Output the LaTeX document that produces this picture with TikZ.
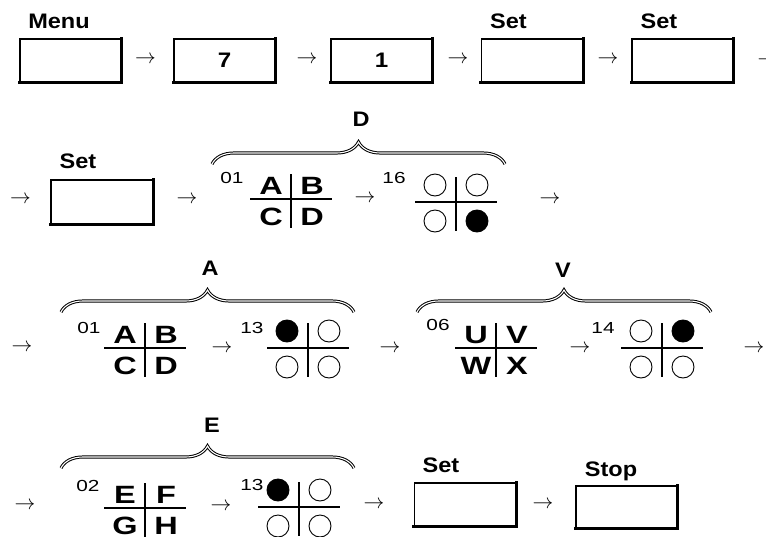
\documentclass[tikz,border=0pt]{standalone}
\usepackage{graphicx}
\usepackage{fontspec}
\setmainfont{Liberation Sans}
\usetikzlibrary{decorations.pathreplacing}
\newcommand\hstr[2]{\scalebox{#1}[1]{#2}}
\tikzset{
  keybox/.style={draw, line width=1.3pt, minimum width=101pt, minimum height=43pt, inner sep=0pt},
  keyedge/.style={line width=3pt, line cap=rect},
  lbl/.style={font=\fontsize{21}{21}\selectfont\bfseries, inner sep=0pt},
  bigl/.style={font=\fontsize{25}{25}\selectfont\bfseries, inner sep=0pt},
  num/.style={font=\fontsize{16}{16}\selectfont, inner sep=0pt},
  arr/.style={font=\fontsize{22}{22}\selectfont, inner sep=0pt},
  gridline/.style={line width=1.3pt},
  dot/.style={circle, draw, line width=0.9pt, minimum size=22pt, inner sep=0pt},
  fdot/.style={dot, fill=black},
  brc/.style={decorate, decoration={brace, amplitude=22pt}, line width=1pt, double distance=1.1pt}
}
\newcommand\quadletters[6]{%
  \begin{scope}[shift={#2}]
    \draw[gridline] (-41,0) -- (41,0);
    \draw[gridline] (0,-25) -- (0,29);
    \node[bigl] (#1a) at (-20,-13) {\hstr{1.3}{#3}};
    \node[bigl] (#1b) at (21,-13) {\hstr{1.3}{#4}};
    \node[bigl] (#1c) at (-20,18) {\hstr{1.3}{#5}};
    \node[bigl] (#1d) at (21,18) {\hstr{1.3}{#6}};
  \end{scope}}
\newcommand\quaddots[6]{%
  \begin{scope}[shift={#2}]
    \draw[gridline] (-41,0) -- (41,0);
    \draw[gridline] (0,-25) -- (0,29);
    \node[#3] (#1a) at (-21,-17) {};
    \node[#4] (#1b) at (21,-17) {};
    \node[#5] (#1c) at (-21,19) {};
    \node[#6] (#1d) at (21,19) {};
  \end{scope}}
\newcommand\keyframe[1]{\draw[keyedge] (#1.north east) -- (#1.south east) -- (#1.south west);}
\begin{document}
\begin{tikzpicture}[x=1pt, y=-1pt]
\useasboundingbox[fill=white] (0,0) rectangle (766,536);

% ---------- row 1 ----------
\node[keybox] (m1) at (70.5,60.5) {};
\node[keybox, lbl] (m2) at (224.5,60.5) {\hstr{1.15}{7}};
\node[keybox, lbl] (m3) at (381.5,60.5) {\hstr{1.15}{1}};
\node[keybox] (m4) at (532,60.5) {};
\node[keybox] (m5) at (682.5,60.5) {};
\foreach \k in {m1,m2,m3,m4,m5} {\keyframe{\k}}
\node[lbl] (lmenu) at (59,21.5) {\hstr{1.12}{Menu}};
\node[lbl] (lset4) at (508.5,21.5) {\hstr{1.12}{Set}};
\node[lbl] (lset5) at (659,21.5) {\hstr{1.12}{Set}};
\node[arr] (a1) at (145.5,60) {$\rightarrow$};
\node[arr] (a2) at (307,60) {$\rightarrow$};
\node[arr] (a3) at (458,60) {$\rightarrow$};
\node[arr] (a4) at (608,60) {$\rightarrow$};
\node[arr] (a5) at (768,61) {$\rightarrow$};

% ---------- row 2 ----------
\node[arr] (b1) at (20.5,200) {$\rightarrow$};
\node[keybox, minimum width=102pt, minimum height=44pt] (s6) at (102,202) {};
\keyframe{s6}
\node[lbl] (lset6) at (78,161) {\hstr{1.12}{Set}};
\node[arr] (b2) at (187,200) {$\rightarrow$};
\coordinate (bdL) at (212,164);
\coordinate (bdR) at (505,164);
\draw[brc] (bdL) -- (bdR);
\node[lbl] (ld) at (361,119) {\hstr{1.12}{D}};
\node[num] (n1) at (232,178) {\hstr{1.3}{01}};
\quadletters{ga}{(291,199)}{A}{B}{C}{D}
\node[arr] (b3) at (365,199) {$\rightarrow$};
\node[num] (n2) at (394,178) {\hstr{1.3}{16}};
\quaddots{gb}{(456,202)}{dot}{dot}{dot}{fdot}
\node[arr] (b4) at (550,200) {$\rightarrow$};

% ---------- row 3 ----------
\node[arr] (c1) at (22,348) {$\rightarrow$};
\coordinate (baL) at (61,312);
\coordinate (baR) at (354,312);
\draw[brc] (baL) -- (baR);
\node[lbl] (la) at (210,268) {\hstr{1.12}{A}};
\node[num] (n3) at (89,328) {\hstr{1.3}{01}};
\quadletters{gc}{(145,348)}{A}{B}{C}{D}
\node[arr] (c2) at (222,349) {$\rightarrow$};
\node[num] (n4) at (252,328) {\hstr{1.3}{13}};
\quaddots{gd}{(308,348)}{fdot}{dot}{dot}{dot}
\node[arr] (c3) at (390,349) {$\rightarrow$};
\coordinate (bvL) at (417,312);
\coordinate (bvR) at (711,312);
\draw[brc] (bvL) -- (bvR);
\node[lbl] (lv) at (563,270) {\hstr{1.12}{V}};
\node[num] (n5) at (438,325) {\hstr{1.3}{06}};
\quadletters{ge}{(496,348)}{U}{V}{W}{X}
\node[arr] (c4) at (580,349) {$\rightarrow$};
\node[num] (n6) at (603,328) {\hstr{1.3}{14}};
\quaddots{gf}{(662,348)}{dot}{fdot}{dot}{dot}
\node[arr] (c5) at (754,349) {$\rightarrow$};

% ---------- row 4 ----------
\node[arr] (d1) at (25,506) {$\rightarrow$};
\coordinate (beL) at (61,468);
\coordinate (beR) at (354,468);
\draw[brc] (beL) -- (beR);
\node[lbl] (le) at (212,425) {\hstr{1.12}{E}};
\node[num] (n7) at (88,486) {\hstr{1.3}{02}};
\quadletters{gg}{(145,508)}{E}{F}{G}{H}
\node[arr] (d2) at (221,507) {$\rightarrow$};
\node[num] (n8) at (252,485) {\hstr{1.3}{13}};
\quaddots{gh}{(299,507)}{fdot}{dot}{dot}{dot}
\node[arr] (d3) at (374,505) {$\rightarrow$};
\node[keybox] (s7) at (465,504.5) {};
\keyframe{s7}
\node[lbl] (lset7) at (441,465) {\hstr{1.12}{Set}};
\node[arr] (d4) at (543,505) {$\rightarrow$};
\node[keybox, minimum height=42pt] (s8) at (626.5,507) {};
\keyframe{s8}
\node[lbl, anchor=base] (lstop) at (611,476) {\hstr{1.12}{Stop}};
\end{tikzpicture}
\end{document}
